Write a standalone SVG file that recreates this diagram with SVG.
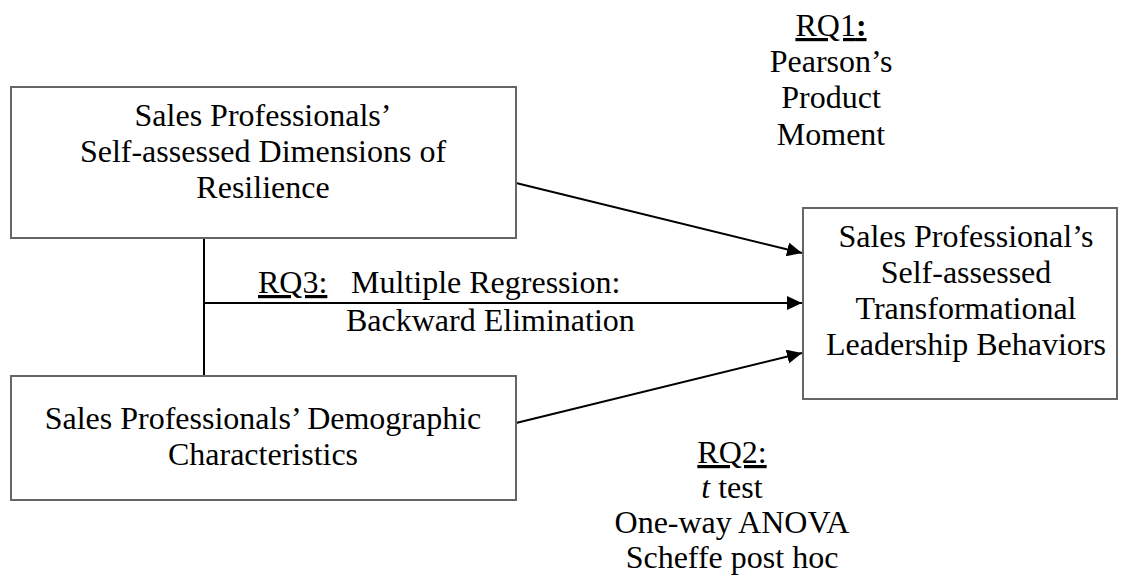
<svg xmlns="http://www.w3.org/2000/svg" width="1122" height="578" viewBox="0 0 1122 578">
<defs>
<style>
.box{fill:#fff;stroke:#666;stroke-width:2}
.t{font-family:"Liberation Serif","Times New Roman",serif;font-size:32px;fill:#000;text-anchor:middle}
.l{font-family:"Liberation Serif","Times New Roman",serif;font-size:32px;fill:#000}
.u{text-decoration:underline}
.c{stroke:#000;stroke-width:2;fill:none}
</style>
<marker id="ah" viewBox="0 0 15 14" refX="15" refY="7" markerWidth="15" markerHeight="14" markerUnits="userSpaceOnUse" orient="auto">
<path d="M0,0 L15,7 L0,14 z" fill="#000"/>
</marker>
</defs>
<rect width="1122" height="578" fill="#fff"/>
<g id="connectors">
<line class="c" x1="204" y1="238" x2="204" y2="376"/>
<line class="c" x1="204" y1="303" x2="802" y2="303" marker-end="url(#ah)"/>
<line class="c" x1="516" y1="183" x2="802" y2="253" marker-end="url(#ah)"/>
<line class="c" x1="516" y1="423" x2="802" y2="353" marker-end="url(#ah)"/>
</g>
<g id="resilience">
<rect class="box" x="11" y="87" width="505" height="151"/>
<text class="t" x="263" y="126">Sales Professionals’</text>
<text class="t" x="263" y="162">Self-assessed Dimensions of</text>
<text class="t" x="263" y="198">Resilience</text>
</g>
<g id="demographic">
<rect class="box" x="11" y="376" width="505" height="124"/>
<text class="t" x="263" y="429">Sales Professionals’ Demographic</text>
<text class="t" x="263" y="465">Characteristics</text>
</g>
<g id="leadership">
<rect class="box" x="803" y="208" width="314" height="191"/>
<text class="t" x="966" y="247">Sales Professional’s</text>
<text class="t" x="966" y="283">Self-assessed</text>
<text class="t" x="966" y="319">Transformational</text>
<text class="t" x="966" y="355">Leadership Behaviors</text>
</g>
<g id="rq1">
<text class="t" x="831" y="36"><tspan class="u">RQ1<tspan font-weight="bold">:</tspan></tspan></text>
<text class="t" x="831" y="72">Pearson’s</text>
<text class="t" x="831" y="108">Product</text>
<text class="t" x="831" y="145">Moment</text>
</g>
<g id="rq3">
<text class="l" x="258" y="293"><tspan class="u">RQ3:</tspan></text>
<text class="l" x="351" y="293">Multiple Regression:</text>
<text class="l" x="346" y="331">Backward Elimination</text>
</g>
<g id="rq2">
<text class="t" x="732" y="463"><tspan class="u">RQ2:</tspan></text>
<text class="t" x="732" y="498"><tspan font-style="italic">t</tspan> test</text>
<text class="t" x="732" y="533">One-way ANOVA</text>
<text class="t" x="732" y="568">Scheffe post hoc</text>
</g>
</svg>
